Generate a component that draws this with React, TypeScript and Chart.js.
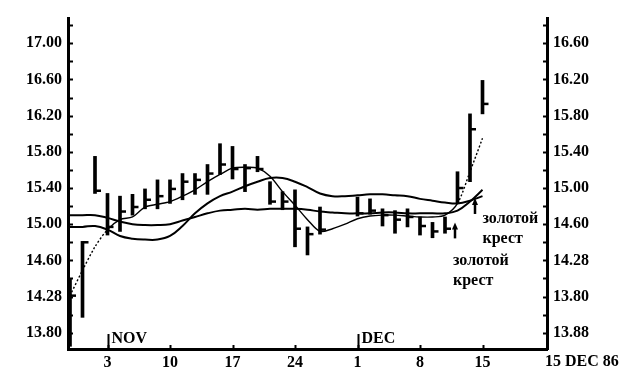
import React, { useEffect, useRef } from 'react';
import { Chart, registerables } from 'chart.js';

Chart.register(...registerables);

// ---- data (trading-day index 0..33) ----
const highs = [14.39, 14.81, 15.75, 15.34, 15.31, 15.33, 15.39, 15.49, 15.49, 15.56, 15.56, 15.66, 15.89, 15.86, 15.66, 15.75, 15.47, 15.36, 15.38, 14.97, 15.19, null, null, 15.30, 15.28, 15.17, 15.15, 15.17, 15.08, 15.02, 15.08, 15.58, 16.22, 16.59];
const lows = [13.65, 13.97, 15.34, 14.88, 14.92, 15.10, 15.17, 15.17, 15.23, 15.27, 15.33, 15.33, 15.55, 15.50, 15.36, 15.58, 15.22, 15.16, 14.75, 14.66, 14.89, null, null, 15.09, 15.11, 14.98, 14.90, 14.97, 14.88, 14.85, 14.90, 15.23, 15.47, 16.22];
const closes = [14.21, 14.80, 15.37, 14.97, 15.14, 15.19, 15.27, 15.31, 15.39, 15.47, 15.49, 15.56, 15.66, 15.61, 15.62, 15.61, 15.25, 15.25, 14.95, 14.89, 14.94, null, null, 15.12, 15.15, 15.10, 15.05, 15.08, 14.98, 14.92, 14.95, 15.40, 16.05, 16.33];

const fastMA = [14.21, 14.49, 14.75, 14.94, 15.05, 15.08, 15.19, 15.22, 15.25, 15.31, 15.38, 15.47, 15.55, 15.62, 15.63, 15.62, 15.53, 15.36, 15.21, 15.05, 14.92, 14.95, 15.00, 15.06, 15.09, 15.10, 15.10, 15.09, 15.08, 15.08, 15.10, 15.23, 15.58, 15.95];
const midMA = [15.10, 15.10, 15.10, 15.07, 15.03, 15.00, 14.99, 14.99, 15.00, 15.04, 15.08, 15.12, 15.15, 15.16, 15.17, 15.16, 15.17, 15.17, 15.17, 15.16, 15.14, 15.13, 15.12, 15.12, 15.12, 15.13, 15.13, 15.12, 15.12, 15.12, 15.12, 15.15, 15.25, 15.38];
const slowMA = [14.97, 14.97, 14.98, 14.94, 14.87, 14.84, 14.83, 14.83, 14.87, 14.98, 15.12, 15.23, 15.31, 15.36, 15.42, 15.47, 15.51, 15.51, 15.47, 15.41, 15.34, 15.31, 15.31, 15.32, 15.33, 15.33, 15.32, 15.31, 15.28, 15.26, 15.24, 15.23, 15.26, 15.31];

const xTickPos = [3, 8, 13, 18, 23, 28, 33];
const xTickLabels = ['3', '10', '17', '24', '1', '8', '15'];
const xEndLabel = '15 DEC 86';
const monthIdx = [3, 23];
const monthLabels = ['NOV', 'DEC'];

const leftTickLabels = ['13.80', '14.28', '14.60', '15.00', '15.40', '15.80', '16.20', '16.60', '17.00'];
const rightTickLabels = ['13.88', '13.80', '14.28', '14.60', '15.00', '15.40', '15.80', '16.20', '16.60'];

const crossIdx = [30.8, 32.4];
const crossVal = [15.02, 15.29];
const crossLabelIdx = [30.64, 33.0];
const crossLabelVal = [14.68, 15.15];
const crossLines = ['золотой', 'крест'];

const FONT = '"Liberation Serif", "Times New Roman", serif';

const tickValues: number[] = [];
for (let k = 0; k <= 17; k++) tickValues.push(Math.round((13.8 + 0.2 * k) * 100) / 100);

function labelFor(arr: string[]) {
  return (value: number) => {
    const k = Math.round((value - 13.8) / 0.2);
    return k % 2 === 0 ? arr[k / 2] ?? '' : '';
  };
}

const decor = {
  id: 'decor',
  afterDraw(chart: any) {
    const { ctx, chartArea: a, scales } = chart;
    const x = scales.x, yl = scales.y, yr = scales.y2;
    ctx.save();
    ctx.strokeStyle = '#000';
    ctx.fillStyle = '#000';
    ctx.lineWidth = 2;
    yl.ticks.forEach((t: any) => {
      const py = Math.round(yl.getPixelForValue(t.value)) + 0.5;
      ctx.beginPath(); ctx.moveTo(a.left, py); ctx.lineTo(a.left + 5, py); ctx.stroke();
    });
    yr.ticks.forEach((t: any) => {
      const py = Math.round(yr.getPixelForValue(t.value)) + 0.5;
      ctx.beginPath(); ctx.moveTo(a.right - 4, py); ctx.lineTo(a.right, py); ctx.stroke();
    });
    x.ticks.forEach((t: any) => {
      const px = Math.round(x.getPixelForValue(t.value)) + 0.5;
      ctx.beginPath(); ctx.moveTo(px, a.bottom); ctx.lineTo(px, a.bottom - 4); ctx.stroke();
    });
    // month markers
    ctx.font = `bold 16px ${FONT}`;
    ctx.textAlign = 'left';
    ctx.textBaseline = 'alphabetic';
    monthIdx.forEach((m, k) => {
      const px = Math.round(x.getPixelForValue(m)) + 0.5;
      ctx.beginPath(); ctx.moveTo(px, a.bottom); ctx.lineTo(px, a.bottom - 15); ctx.stroke();
      ctx.fillText(monthLabels[k], px + 3, a.bottom - 6);
    });
    // end label
    ctx.textBaseline = 'middle';
    ctx.fillText(xEndLabel, a.right - 2, a.bottom + 13);
    // golden cross arrows
    crossIdx.forEach((ci, k) => {
      const px = x.getPixelForValue(ci);
      const py = yl.getPixelForValue(crossVal[k]);
      ctx.lineWidth = 2.5;
      ctx.beginPath(); ctx.moveTo(px, py + 5); ctx.lineTo(px, py + 16); ctx.stroke();
      ctx.beginPath(); ctx.moveTo(px, py); ctx.lineTo(px - 3, py + 7); ctx.lineTo(px + 3, py + 7); ctx.closePath(); ctx.fill();
    });
    ctx.font = `bold 16px ${FONT}`;
    ctx.textBaseline = 'top';
    crossLabelIdx.forEach((ci, k) => {
      const px = x.getPixelForValue(ci);
      const py = yl.getPixelForValue(crossLabelVal[k]);
      crossLines.forEach((ln, j) => ctx.fillText(ln, px, py + j * 20));
    });
    ctx.restore();
  },
};

export default function App() {
  const ref = useRef<HTMLCanvasElement | null>(null);
  useEffect(() => {
    if (!ref.current) return;
    const pts = (arr: (number | null)[]) => arr.map((v, i) => ({ x: i, y: v }));
    const tickFont = { family: FONT, weight: 'bold' as const, size: 16 };
    const chart = new Chart(ref.current, {
      type: 'line',
      data: {
        datasets: [
          {
            type: 'bar',
            data: highs.map((h, i) => ({ x: i, y: h == null ? null : [lows[i] as number, h] })) as any,
            backgroundColor: '#000',
            barThickness: 3,
            yAxisID: 'y',
          } as any,
          {
            type: 'line',
            data: pts(closes) as any,
            showLine: false,
            pointStyle: 'dash',
            pointRadius: 6,
            pointBorderWidth: 2.5,
            borderColor: '#000',
            yAxisID: 'y',
          },
          {
            type: 'line',
            data: pts(fastMA) as any,
            borderColor: '#000',
            borderWidth: 1.4,
            pointRadius: 0,
            tension: 0.3,
            yAxisID: 'y',
            segment: {
              borderDash: (c: any) => (Math.abs(c.p1.parsed.y - c.p0.parsed.y) > 0.18 ? [2, 2] : undefined),
            },
          },
          {
            type: 'line',
            data: pts(midMA) as any,
            borderColor: '#000',
            borderWidth: 2,
            pointRadius: 0,
            tension: 0.4,
            yAxisID: 'y',
          },
          {
            type: 'line',
            data: pts(slowMA) as any,
            borderColor: '#000',
            borderWidth: 2,
            pointRadius: 0,
            tension: 0.4,
            yAxisID: 'y',
          },
        ],
      },
      options: {
        animation: false,
        responsive: true,
        maintainAspectRatio: false,
        layout: { padding: { top: 18, left: 0, right: 0, bottom: 0 } },
        plugins: { legend: { display: false }, tooltip: { enabled: false } },
        scales: {
          x: {
            type: 'linear',
            min: -0.16,
            max: 38.16,
            offset: false,
            border: { display: true, color: '#000', width: 3 },
            grid: { display: true, drawOnChartArea: false, drawTicks: false },
            afterBuildTicks: (s: any) => { s.ticks = xTickPos.map((v) => ({ value: v })); },
            afterFit: (s: any) => { s.height = 23; },
            ticks: {
              color: '#000',
              font: tickFont,
              padding: 4,
              maxRotation: 0,
              autoSkip: false,
              callback: (v: any) => {
                const k = xTickPos.indexOf(Number(v));
                return k >= 0 ? xTickLabels[k] : '';
              },
            },
          },
          y: {
            type: 'linear',
            position: 'left',
            min: 13.62,
            max: 17.28,
            border: { display: true, color: '#000', width: 3 },
            grid: { display: true, drawOnChartArea: false, drawTicks: false },
            afterBuildTicks: (s: any) => { s.ticks = tickValues.map((v) => ({ value: v })); },
            afterFit: (s: any) => { s.width = 68; },
            ticks: { color: '#000', font: tickFont, padding: 6, autoSkip: false, callback: labelFor(leftTickLabels) as any },
          },
          y2: {
            type: 'linear',
            position: 'right',
            min: 13.62,
            max: 17.28,
            border: { display: true, color: '#000', width: 3 },
            grid: { display: true, drawOnChartArea: false, drawTicks: false },
            afterBuildTicks: (s: any) => { s.ticks = tickValues.map((v) => ({ value: v })); },
            afterFit: (s: any) => { s.width = 80; },
            ticks: { color: '#000', font: tickFont, padding: 6, autoSkip: false, callback: labelFor(rightTickLabels) as any },
          },
        },
      },
      plugins: [decor],
    });
    return () => chart.destroy();
  }, []);
  return (
    <div style={{ position: 'fixed', left: 0, top: 0, width: 627, height: 372, background: '#fff' }}>
      <canvas ref={ref} />
    </div>
  );
}
